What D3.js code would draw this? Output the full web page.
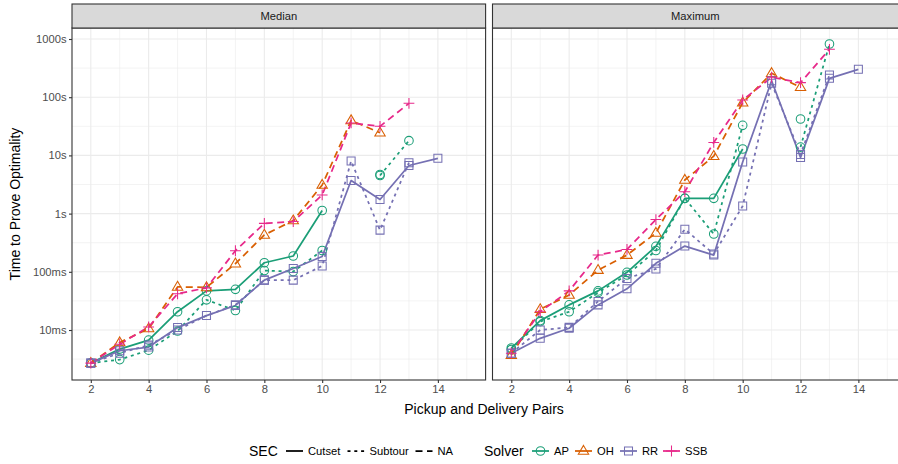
<!DOCTYPE html>
<html>
<head>
<meta charset="utf-8">
<script src="https://cdn.jsdelivr.net/npm/d3@7"></script>
<style>
  body { margin: 0; background: #fff; }
  svg { display: block; font-family: "Liberation Sans", Arial, sans-serif; }
</style>
</head>
<body>
<svg id="chart" width="898" height="464"></svg>
<script>
// ---- data -------------------------------------------------------------
const pairs = [2, 3, 4, 5, 6, 7, 8, 9, 10, 11, 12, 13, 14];
const panels = ["Median", "Maximum"];
const secLevels = ["Cutset", "Subtour", "NA"];
const solverLevels = ["AP", "OH", "RR", "SSB"];
const solverColors = ["#1B9E77", "#D95F02", "#7570B3", "#E7298A"];
const yTickValues = [0.01, 0.1, 1, 10, 100, 1000];
const yTickLabels = ["10ms", "100ms", "1s", "10s", "100s", "1000s"];
const xTickValues = [2, 4, 6, 8, 10, 12, 14];

// Times in seconds, one entry per value of `pairs` (null = no result)
const medianAPCutset   = [0.0027, 0.0047, 0.0067, 0.0206, 0.047, 0.050, 0.143, 0.187, 1.13, null, 4.70, null, null];
const medianAPSubtour  = [0.0027, 0.0031, 0.0045, 0.0096, 0.033, 0.0216, 0.105, 0.101, 0.232, null, 4.52, 17.9, null];
const medianOHNA       = [0.0027, 0.0061, 0.0106, 0.055, 0.054, 0.138, 0.43, 0.76, 3.10, 39.8, 24.5, null, null];
const medianRRCutset   = [0.0027, 0.0044, 0.0051, 0.0110, 0.0177, 0.0264, 0.072, 0.114, 0.183, 3.70, 1.75, 6.7, 8.9];
const medianRRSubtour  = [0.0027, 0.0040, 0.0055, 0.0100, 0.0177, 0.0270, 0.072, 0.072, 0.126, 8.0, 0.52, 7.5, null];
const medianSSBNA      = [0.0027, 0.0057, 0.0113, 0.042, 0.053, 0.230, 0.68, 0.73, 2.09, 36.1, 31.6, 78.5, null];

const maximumAPCutset  = [0.0049, 0.0145, 0.027, 0.047, 0.098, 0.274, 1.83, 1.83, 12.9, null, 42.2, null, null];
const maximumAPSubtour = [0.0046, 0.0139, 0.0206, 0.044, 0.088, 0.232, 1.83, 0.446, 32.9, null, 13.9, 820, null];
const maximumOHNA      = [0.0037, 0.0227, 0.040, 0.107, 0.194, 0.464, 3.78, 9.7, 80.5, 258, 148, null, null];
const maximumRRCutset  = [0.0040, 0.0072, 0.0107, 0.027, 0.051, 0.140, 0.277, 0.194, 7.7, 192, 9.2, 211, 301];
const maximumRRSubtour = [0.0040, 0.0100, 0.0111, 0.031, 0.077, 0.112, 0.537, 0.202, 1.35, 173, 10.4, 241, null];
const maximumSSBNA     = [0.0040, 0.0206, 0.047, 0.194, 0.242, 0.79, 2.38, 16.7, 89.5, 220, 178, 665, null];

const series = [
  { panel: "Median",  solver: "AP",  sec: "Cutset",  values: medianAPCutset },
  { panel: "Median",  solver: "AP",  sec: "Subtour", values: medianAPSubtour },
  { panel: "Median",  solver: "OH",  sec: "NA",      values: medianOHNA },
  { panel: "Median",  solver: "RR",  sec: "Cutset",  values: medianRRCutset },
  { panel: "Median",  solver: "RR",  sec: "Subtour", values: medianRRSubtour },
  { panel: "Median",  solver: "SSB", sec: "NA",      values: medianSSBNA },
  { panel: "Maximum", solver: "AP",  sec: "Cutset",  values: maximumAPCutset },
  { panel: "Maximum", solver: "AP",  sec: "Subtour", values: maximumAPSubtour },
  { panel: "Maximum", solver: "OH",  sec: "NA",      values: maximumOHNA },
  { panel: "Maximum", solver: "RR",  sec: "Cutset",  values: maximumRRCutset },
  { panel: "Maximum", solver: "RR",  sec: "Subtour", values: maximumRRSubtour },
  { panel: "Maximum", solver: "SSB", sec: "NA",      values: maximumSSBNA }
];

// ---- layout & styles --------------------------------------------------
const svg = d3.select("#chart");
const panelTop = 28, panelBottom = 380, stripTop = 4;
const panelX = { Median: [72, 485.6], Maximum: [492.5, 906.1] };
const gridColor = "#EBEBEB", borderColor = "#333333", tickTextColor = "#4D4D4D";

const color = d3.scaleOrdinal().domain(solverLevels).range(solverColors);
const dashes = { Cutset: null, Subtour: "3,3.8", NA: "7,4.5" };

const y = d3.scaleLog().domain([Math.pow(10, -2.859), Math.pow(10, 3.189)]).range([panelBottom, panelTop]);
const yMinor = d3.range(-2.5, 3, 1).map(e => Math.pow(10, e));
const xMinor = [3, 5, 7, 9, 11, 13, 15];

// open point shapes drawn around (0,0)
const shapePath = {
  AP:  "M4.3,0A4.3,4.3 0 1,1 -4.3,0A4.3,4.3 0 1,1 4.3,0Z",
  OH:  "M0,-5.6L5.2,3.3L-5.2,3.3Z",
  RR:  "M-4,-4H4V4H-4Z",
  SSB: "M-5.4,0H5.4M0,-5.4V5.4"
};

panels.forEach(p => {
  const [x0, x1] = panelX[p];
  const x = d3.scaleLinear().domain([1.35, 15.65]).range([x0, x1]);
  const g = svg.append("g");

  // grid
  g.selectAll(".ymin").data(yMinor).join("line")
    .attr("x1", x0).attr("x2", x1).attr("y1", d => y(d)).attr("y2", d => y(d))
    .attr("stroke", gridColor).attr("stroke-width", 0.6);
  g.selectAll(".xmin").data(xMinor).join("line")
    .attr("x1", d => x(d)).attr("x2", d => x(d)).attr("y1", panelTop).attr("y2", panelBottom)
    .attr("stroke", gridColor).attr("stroke-width", 0.6);
  g.selectAll(".ymaj").data(yTickValues).join("line")
    .attr("x1", x0).attr("x2", x1).attr("y1", d => y(d)).attr("y2", d => y(d))
    .attr("stroke", gridColor).attr("stroke-width", 1.1);
  g.selectAll(".xmaj").data(xTickValues).join("line")
    .attr("x1", d => x(d)).attr("x2", d => x(d)).attr("y1", panelTop).attr("y2", panelBottom)
    .attr("stroke", gridColor).attr("stroke-width", 1.1);

  // series lines
  const panelSeries = series.filter(s => s.panel === p);
  const line = d3.line()
    .defined(d => d.v != null)
    .x(d => x(d.x)).y(d => y(d.v));
  panelSeries.forEach(s => {
    const pts = pairs.map((px, i) => ({ x: px, v: s.values[i] }));
    g.append("path").datum(pts)
      .attr("d", line)
      .attr("fill", "none")
      .attr("stroke", color(s.solver))
      .attr("stroke-width", 1.75)
      .attr("stroke-dasharray", dashes[s.sec])
      .attr("stroke-linejoin", "round");
  });
  // points
  panelSeries.forEach(s => {
    const pts = pairs.map((px, i) => ({ x: px, v: s.values[i] })).filter(d => d.v != null);
    g.selectAll(null).data(pts).join("path")
      .attr("transform", d => `translate(${x(d.x)},${y(d.v)})`)
      .attr("d", shapePath[s.solver])
      .attr("fill", "none")
      .attr("stroke", color(s.solver))
      .attr("stroke-width", 1.05);
  });

  // panel border
  g.append("rect").attr("x", x0).attr("y", panelTop)
    .attr("width", x1 - x0).attr("height", panelBottom - panelTop)
    .attr("fill", "none").attr("stroke", borderColor).attr("stroke-width", 1.1);

  // strip
  g.append("rect").attr("x", x0).attr("y", stripTop)
    .attr("width", x1 - x0).attr("height", panelTop - stripTop)
    .attr("fill", "#D9D9D9").attr("stroke", borderColor).attr("stroke-width", 1.1);
  g.append("text").attr("x", (x0 + x1) / 2 - (p === "Maximum" ? 4 : 0)).attr("y", (stripTop + panelTop) / 2)
    .attr("dy", "0.36em").attr("text-anchor", "middle")
    .attr("font-size", 11.2).attr("fill", "#1A1A1A").text(p);

  // x axis
  const xAxis = d3.axisBottom(x).tickValues(xTickValues).tickSize(3).tickPadding(2.5).tickFormat(d3.format("d"));
  const xa = g.append("g").attr("transform", `translate(0,${panelBottom})`).call(xAxis);
  xa.select(".domain").remove();
  xa.selectAll(".tick line").attr("stroke", borderColor).attr("stroke-width", 1.1);
  xa.selectAll(".tick text").attr("font-size", 11.2).attr("fill", tickTextColor)
    .attr("font-family", "Liberation Sans, Arial, sans-serif");

  // y axis (left panel only)
  if (p === "Median") {
    const yAxis = d3.axisLeft(y).tickValues(yTickValues).tickSize(3).tickPadding(2.5)
      .tickFormat((d, i) => yTickLabels[i]);
    const ya = g.append("g").attr("transform", `translate(${x0},0)`).call(yAxis);
    ya.select(".domain").remove();
    ya.selectAll(".tick line").attr("stroke", borderColor).attr("stroke-width", 1.1);
    ya.selectAll(".tick text").attr("font-size", 11.2).attr("fill", tickTextColor)
      .attr("font-family", "Liberation Sans, Arial, sans-serif");
  }
});

// axis titles
svg.append("text").attr("x", (panelX.Median[0] + panelX.Maximum[1]) / 2 - 5).attr("y", 414)
  .attr("text-anchor", "middle").attr("font-size", 14).attr("fill", "#000")
  .text("Pickup and Delivery Pairs");
svg.append("text")
  .attr("transform", `translate(20,${(panelTop + panelBottom) / 2}) rotate(-90)`)
  .attr("text-anchor", "middle").attr("font-size", 14).attr("fill", "#000")
  .text("Time to Prove Optimality");

// ---- legends ------------------------------------------------------------
const legY = 451;
const lg = svg.append("g");
lg.append("text").attr("x", 249).attr("y", legY).attr("dy", "0.36em")
  .attr("font-size", 14).text("SEC");
const secKeyX = [286, 347.5, 415.5];
secLevels.forEach((s, i) => {
  lg.append("line").attr("x1", secKeyX[i]).attr("x2", secKeyX[i] + 17)
    .attr("y1", legY).attr("y2", legY)
    .attr("stroke", "#000").attr("stroke-width", 1.75)
    .attr("stroke-dasharray", dashes[s]);
  lg.append("text").attr("x", secKeyX[i] + 22).attr("y", legY).attr("dy", "0.36em")
    .attr("font-size", 11.2).text(s);
});
lg.append("text").attr("x", 484).attr("y", legY).attr("dy", "0.36em")
  .attr("font-size", 14).text("Solver");
const solverKeyX = [532, 575, 620, 663];
solverLevels.forEach((s, i) => {
  const kx = solverKeyX[i];
  lg.append("line").attr("x1", kx).attr("x2", kx + 17).attr("y1", legY).attr("y2", legY)
    .attr("stroke", color(s)).attr("stroke-width", 1.75);
  lg.append("path").attr("transform", `translate(${kx + 8.5},${legY})`)
    .attr("d", shapePath[s]).attr("fill", "none")
    .attr("stroke", color(s)).attr("stroke-width", 1.05);
  lg.append("text").attr("x", kx + 22).attr("y", legY).attr("dy", "0.36em")
    .attr("font-size", 11.2).text(s);
});
</script>
</body>
</html>
